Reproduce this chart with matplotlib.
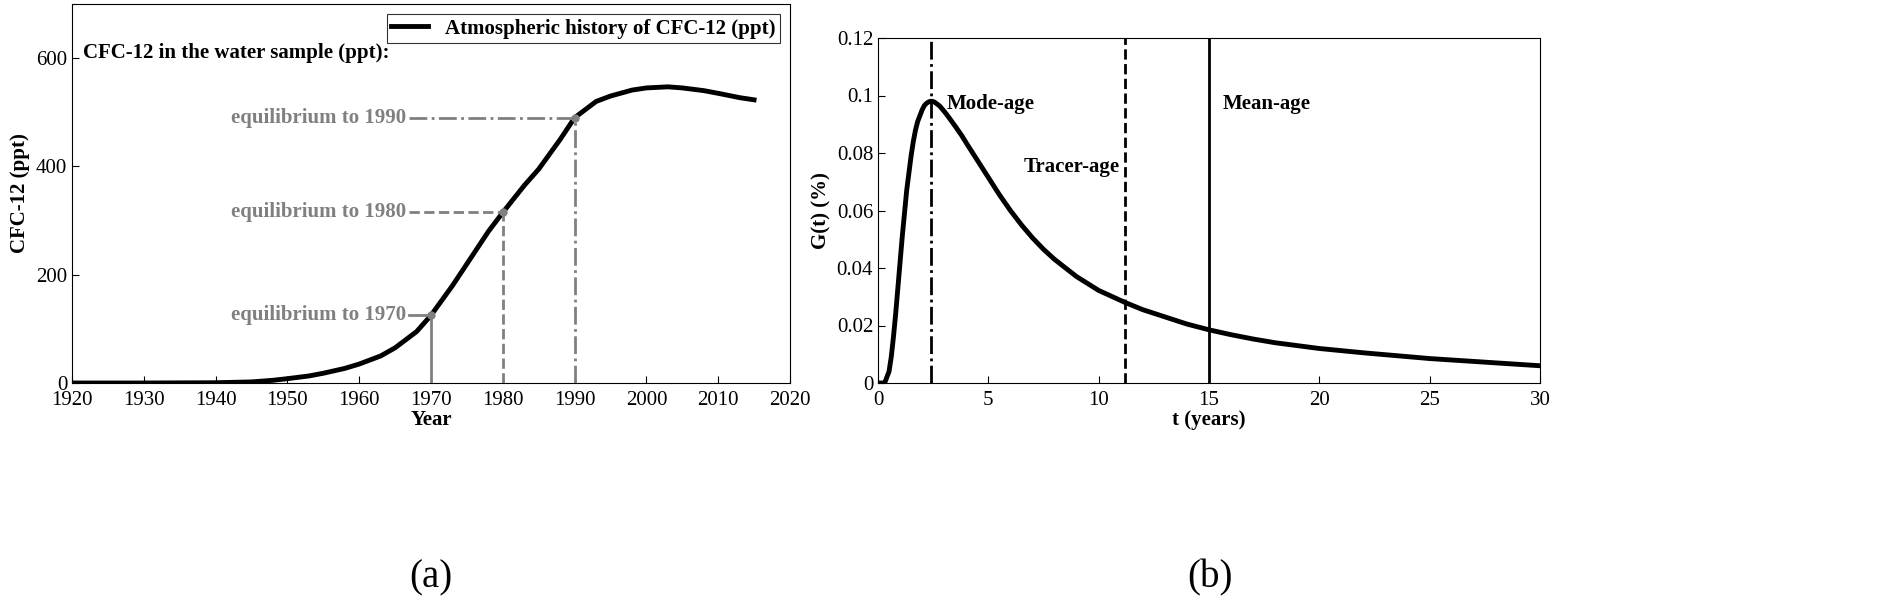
import matplotlib
matplotlib.use("Agg")
import matplotlib.pyplot as plt

plt.rcParams['font.family'] = ['Liberation Serif', 'DejaVu Serif']

years = [1920,1930,1940,1945,1948,1950,1953,1955,1958,1960,1963,1965,1968,1970,1973,1975,1978,1980,1983,1985,1988,1990,1993,1995,1998,2000,2003,2005,2008,2010,2013,2015]
cfc12 = [0,0,0.5,2,5,8,13,18,27,35,50,65,95,125,180,220,280,315,365,395,450,490,520,530,541,545,547,545,540,535,527,523]
eq_years = [1970, 1980, 1990]
eq_vals = [125, 315, 490]
eq_labels = ['equilibrium to 1970', 'equilibrium to 1980', 'equilibrium to 1990']
eq_styles = ['-', '--', '-.']

t = [0,0.3,0.5,0.6,0.7,0.8,0.9,1.0,1.1,1.2,1.3,1.4,1.5,1.6,1.7,1.8,1.9,2.0,2.1,2.2,2.3,2.4,2.5,2.6,2.8,3.0,3.2,3.5,3.8,4,4.5,5,5.5,6,6.5,7,7.5,8,9,10,11.2,12,13,14,15,16,17,18,20,22,25,27,30]
G = [0,0.0,0.004,0.009,0.016,0.024,0.033,0.042,0.051,0.059,0.067,0.073,0.079,0.084,0.088,0.091,0.093,0.095,0.0965,0.0973,0.0978,0.098,0.0979,0.0975,0.0963,0.0945,0.0925,0.0893,0.086,0.0835,0.0775,0.0715,0.0655,0.0600,0.0550,0.0505,0.0465,0.0430,0.0370,0.0322,0.0280,0.0255,0.0230,0.0205,0.0185,0.0168,0.0153,0.0140,0.0120,0.0105,0.0085,0.0075,0.006]
age_t = [2.4, 11.2, 15]
age_styles = ['-.', '--', '-']

fig = plt.figure(figsize=(18.92, 6.07), dpi=100)
ax1 = fig.add_axes([72/1892, 1-383/607, 718/1892, 379/607])
ax2 = fig.add_axes([878/1892, 1-383/607, 662/1892, 345/607])

gray = '#808080'
ax1.plot(years, cfc12, color='black', lw=3.5, label='Atmospheric history of CFC-12 (ppt)')
for y, v, lab, ls in zip(eq_years, eq_vals, eq_labels, eq_styles):
    ax1.plot([1967, y], [v, v], color=gray, ls=ls, lw=2)
    ax1.plot([y, y], [0, v], color=gray, ls=ls, lw=2)
    ax1.plot(y, v, 'o', color=gray, ms=5)
    ax1.text(1966.5, v, lab, color=gray, fontsize=15, fontweight='bold', ha='right', va='center')
ax1.text(1921.5, 610, 'CFC-12 in the water sample (ppt):', fontsize=15, fontweight='bold', va='center')
ax1.set_xlim(1920, 2020)
ax1.set_ylim(0, 700)
ax1.set_xticks(range(1920, 2021, 10))
ax1.set_yticks([0, 200, 400, 600])
ax1.set_xlabel('Year', fontsize=15, fontweight='bold', labelpad=0)
ax1.set_ylabel('CFC-12 (ppt)', fontsize=15, fontweight='bold')
leg = ax1.legend(loc='upper right', prop={'weight': 'bold', 'size': 15}, frameon=True,
                 fancybox=False, edgecolor='black', handlelength=1.8, borderpad=0.2)
leg.get_frame().set_linewidth(0.8)

ax2.plot(t, G, color='black', lw=3.5)
for x, ls in zip(age_t, age_styles):
    ax2.axvline(x, color='black', ls=ls, lw=2)
ax2.text(3.1, 0.097, 'Mode-age', fontsize=15, fontweight='bold', va='center')
ax2.text(6.6, 0.075, 'Tracer-age', fontsize=15, fontweight='bold', va='center')
ax2.text(15.6, 0.097, 'Mean-age', fontsize=15, fontweight='bold', va='center')
ax2.set_xlim(0, 30)
ax2.set_ylim(0, 0.12)
ax2.set_yticks([0, 0.02, 0.04, 0.06, 0.08, 0.1, 0.12])
ax2.set_yticklabels(['0', '0.02', '0.04', '0.06', '0.08', '0.1', '0.12'])
ax2.set_xlabel('t (years)', fontsize=15, fontweight='bold', labelpad=0)
ax2.set_ylabel('G(t) (%)', fontsize=15, fontweight='bold')

for ax in (ax1, ax2):
    ax.tick_params(direction='in', labelsize=15, length=5, top=False, right=False)
    ax.tick_params(axis='x', pad=6)
    for s in ax.spines.values():
        s.set_linewidth(0.8)

fig.text(431/1892, 1-578/607, '(a)', fontsize=28, ha='center', va='center')
fig.text(1210/1892, 1-578/607, '(b)', fontsize=28, ha='center', va='center')
fig.savefig('out.png', dpi=100)
